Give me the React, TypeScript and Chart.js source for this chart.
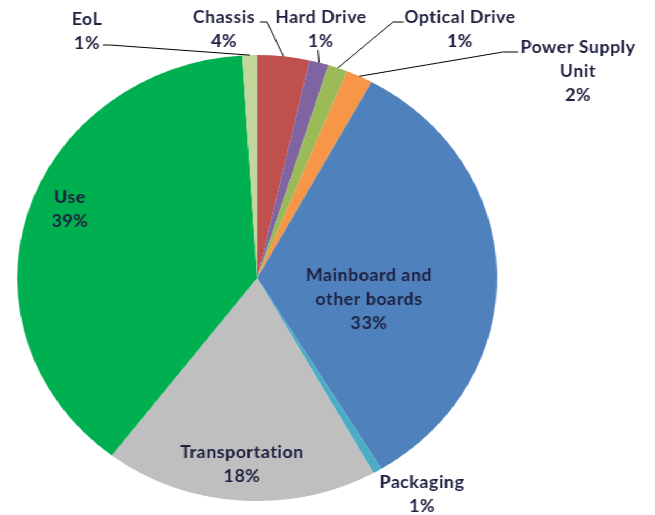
import React, { useEffect, useRef } from "react";
import { Chart, registerables } from "chart.js";

Chart.register(...registerables);

// ---- data ----
const categories = [
  "Chassis",
  "Hard Drive",
  "Optical Drive",
  "Power Supply Unit",
  "Mainboard and other boards",
  "Packaging",
  "Transportation",
  "Use",
  "EoL",
];
const shares = [3.5, 1.3, 1.3, 1.8, 33.4, 0.6, 18.4, 38.6, 1.0];
const labelLines = [
  ["Chassis"],
  ["Hard Drive"],
  ["Optical Drive"],
  ["Power Supply", "Unit"],
  ["Mainboard and", "other boards"],
  ["Packaging"],
  ["Transportation"],
  ["Use"],
  ["EoL"],
];
const colors = [
  "#C0504D",
  "#8064A2",
  "#9BBB59",
  "#F79646",
  "#4F81BD",
  "#4BACC6",
  "#BFBFBF",
  "#00B050",
  "#C3D69B",
];

// ---- layout (screen px; x is divided by horizontal stretch) ----
const SX = 1.076;
const CANVAS_W = 609;
const CANVAS_H = 515;
const LINE_H = 24;
const FONT = "bold 16.5px Lato";
const LETTER_SPACING = "0.5px";
const TEXT_COLOR = "#1F2040";
type Lay = { x: number; y: number; path?: number[][] };
const layout: Lay[] = [
  { x: 224, y: 18, path: [[260, 22], [267, 22]] },
  { x: 321, y: 18, path: [[318, 50]] },
  { x: 460, y: 18, path: [[404, 22], [393, 22]] },
  { x: 578, y: 48, path: [[518, 52], [503, 52]] },
  { x: 369, y: 276 },
  { x: 422, y: 483 },
  { x: 242, y: 453 },
  { x: 70, y: 198 },
  { x: 87, y: 20, path: [[103, 45], [110, 45]] },
];

const labelPlugin = {
  id: "sliceLabels",
  afterDatasetsDraw(chart: any) {
    const ctx = chart.ctx as CanvasRenderingContext2D;
    const meta = chart.getDatasetMeta(0);
    const data = chart.data.datasets[0].data as number[];
    const total = data.reduce((a, b) => a + b, 0);
    ctx.save();
    ctx.font = FONT;
    (ctx as any).letterSpacing = LETTER_SPACING;
    ctx.textAlign = "center";
    ctx.textBaseline = "middle";
    meta.data.forEach((arc: any, i: number) => {
      const p = arc.getProps(["x", "y", "startAngle", "endAngle", "outerRadius"], true);
      const L = layout[i];
      if (L.path) {
        const mid = (p.startAngle + p.endAngle) / 2;
        const ex = p.x + Math.cos(mid) * p.outerRadius;
        const ey = p.y + Math.sin(mid) * p.outerRadius;
        ctx.beginPath();
        ctx.strokeStyle = "#000000";
        ctx.lineWidth = 1;
        L.path.forEach((pt, k) => {
          if (k === 0) ctx.moveTo(pt[0] / SX, pt[1]);
          else ctx.lineTo(pt[0] / SX, pt[1]);
        });
        ctx.lineTo(ex, ey);
        ctx.stroke();
      }
      const pct = Math.round((data[i] / total) * 100) + "%";
      const lines = [...labelLines[i], pct];
      ctx.fillStyle = TEXT_COLOR;
      lines.forEach((t, k) => ctx.fillText(t, L.x / SX, L.y + k * LINE_H));
    });
    ctx.restore();
  },
};

export default function App() {
  const ref = useRef<HTMLCanvasElement>(null);
  useEffect(() => {
    if (!ref.current) return;
    const chart = new Chart(ref.current, {
      type: "pie",
      data: {
        labels: categories,
        datasets: [
          {
            data: shares,
            backgroundColor: colors,
            borderWidth: 0,
          },
        ],
      },
      options: {
        animation: false,
        responsive: false,
        maintainAspectRatio: false,
        devicePixelRatio: 1,
        layout: { padding: { left: 16, right: 147, top: 55, bottom: 14 } },
        plugins: {
          legend: { display: false },
          tooltip: { enabled: false },
        },
      },
      plugins: [labelPlugin],
    });
    return () => chart.destroy();
  }, []);
  return (
    <div
      style={{
        position: "absolute",
        left: 0,
        top: 0,
        width: CANVAS_W,
        height: CANVAS_H,
        background: "#ffffff",
        transform: `scaleX(${SX})`,
        transformOrigin: "0 0",
      }}
    >
      <canvas
        ref={ref}
        width={CANVAS_W}
        height={CANVAS_H}
        style={{ display: "block", width: CANVAS_W, height: CANVAS_H }}
      />
    </div>
  );
}
